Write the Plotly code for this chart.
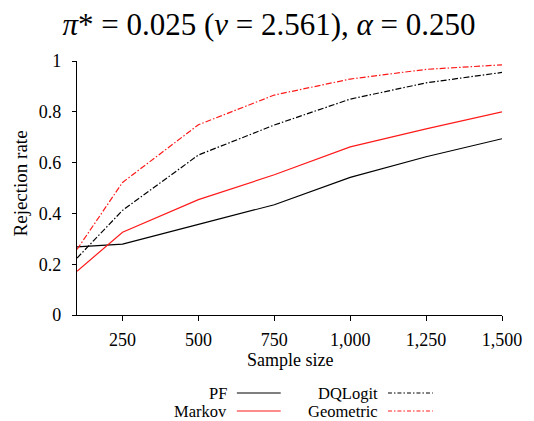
import plotly.graph_objects as go

sample_sizes = [100, 250, 500, 750, 1000, 1250, 1500]
pf = [0.268, 0.279, 0.357, 0.434, 0.542, 0.623, 0.694]
markov = [0.172, 0.326, 0.454, 0.552, 0.662, 0.733, 0.800]
dqlogit = [0.224, 0.412, 0.630, 0.748, 0.850, 0.914, 0.955]
geometric = [0.258, 0.522, 0.749, 0.866, 0.929, 0.967, 0.985]

x_ticks = [250, 500, 750, 1000, 1250, 1500]
x_tick_labels = ["250", "500", "750", "1,000", "1,250", "1,500"]
y_ticks = [0, 0.2, 0.4, 0.6, 0.8, 1]
y_tick_labels = ["0", "0.2", "0.4", "0.6", "0.8", "1"]

RED = "#ff1a1a"
DASHDOT = "6px,2px,1.5px,2px"
series = [
    ("PF", pf, "black", "solid"),
    ("Markov", markov, RED, "solid"),
    ("DQLogit", dqlogit, "black", DASHDOT),
    ("Geometric", geometric, RED, DASHDOT),
]

FONT = "'Liberation Serif', 'Times New Roman', 'DejaVu Serif', serif"
FS = 18
fig = go.Figure()
for name, vals, color, dash in series:
    fig.add_trace(go.Scatter(x=sample_sizes, y=vals, mode="lines", name=name,
                             line=dict(color=color, width=1.2, dash=dash),
                             showlegend=False))

W, H = 534, 421
L, R, T, B = 77, 21, 61, 106
pw, ph = W - L - R, H - T - B

def px2paper(x, y):
    return (x - L) / pw, (H - B - y) / ph

# manual legend (text to the left of line sample)
legend_items = [
    ("PF", "black", "solid", 230, 241, 286, 393),
    ("Markov", RED, "solid", 230, 241, 286, 411),
    ("DQLogit", "black", "4px,2px,1.5px,2px", 385, 396, 442, 393),
    ("Geometric", RED, "4px,2px,1.5px,2px", 385, 396, 442, 411),
]
for name, color, dash, tx, x0, x1, y in legend_items:
    ax, ay = px2paper(tx, y)
    fig.add_annotation(x=ax, y=ay, xref="paper", yref="paper", text=name,
                       showarrow=False, xanchor="right", yanchor="middle",
                       xshift=3, font=dict(family=FONT, size=16.5, color="black"))
    p0, _ = px2paper(x0, y)
    p1, _ = px2paper(x1, y)
    fig.add_shape(type="line", xref="paper", yref="paper", x0=p0, x1=p1, y0=ay, y1=ay,
                  line=dict(color=color, width=1.2, dash=dash))

# axis titles
sx, sy = px2paper(296, 360)
fig.add_annotation(x=sx, y=sy, xref="paper", yref="paper", text="Sample size",
                   showarrow=False, xanchor="center", yanchor="middle",
                   font=dict(family=FONT, size=FS, color="black"))
rx, ry = px2paper(19, 183)
fig.add_annotation(x=rx, y=ry, xref="paper", yref="paper", text="Rejection rate",
                   showarrow=False, xanchor="center", yanchor="middle", textangle=-90,
                   font=dict(family=FONT, size=19, color="black"))

fig.update_layout(
    width=W, height=H,
    margin=dict(l=L, r=R, t=T, b=B),
    paper_bgcolor="white", plot_bgcolor="white",
    font=dict(family=FONT, size=FS, color="black"),
    title=dict(text="<i>π</i>* = 0.025 (<i>v</i> = 2.561), <i>α</i> = 0.250",
               x=269 / W, xanchor="center",
               y=(H - 24) / H, yanchor="middle", yref="container",
               font=dict(family=FONT, size=31, color="black")),
    showlegend=False,
)
fig.update_xaxes(range=[100, 1500], tickvals=x_ticks, ticktext=x_tick_labels,
                 tickfont=dict(family=FONT, size=FS, color="black"),
                 showline=True, linecolor="black", linewidth=1.2, ticks="outside",
                 ticklen=5, tickcolor="black", showgrid=False, zeroline=False,
                 ticklabelstandoff=3)
fig.update_yaxes(range=[0, 1], tickvals=y_ticks, ticktext=y_tick_labels,
                 tickfont=dict(family=FONT, size=FS, color="black"),
                 showline=True, linecolor="black", linewidth=1.2, ticks="outside",
                 ticklen=4, tickcolor="black", showgrid=False, zeroline=False,
                 ticklabelstandoff=7)

fig.write_html("out.html", config={"displayModeBar": False},
               post_script="document.body.style.margin='0';document.body.style.overflow='hidden';")
